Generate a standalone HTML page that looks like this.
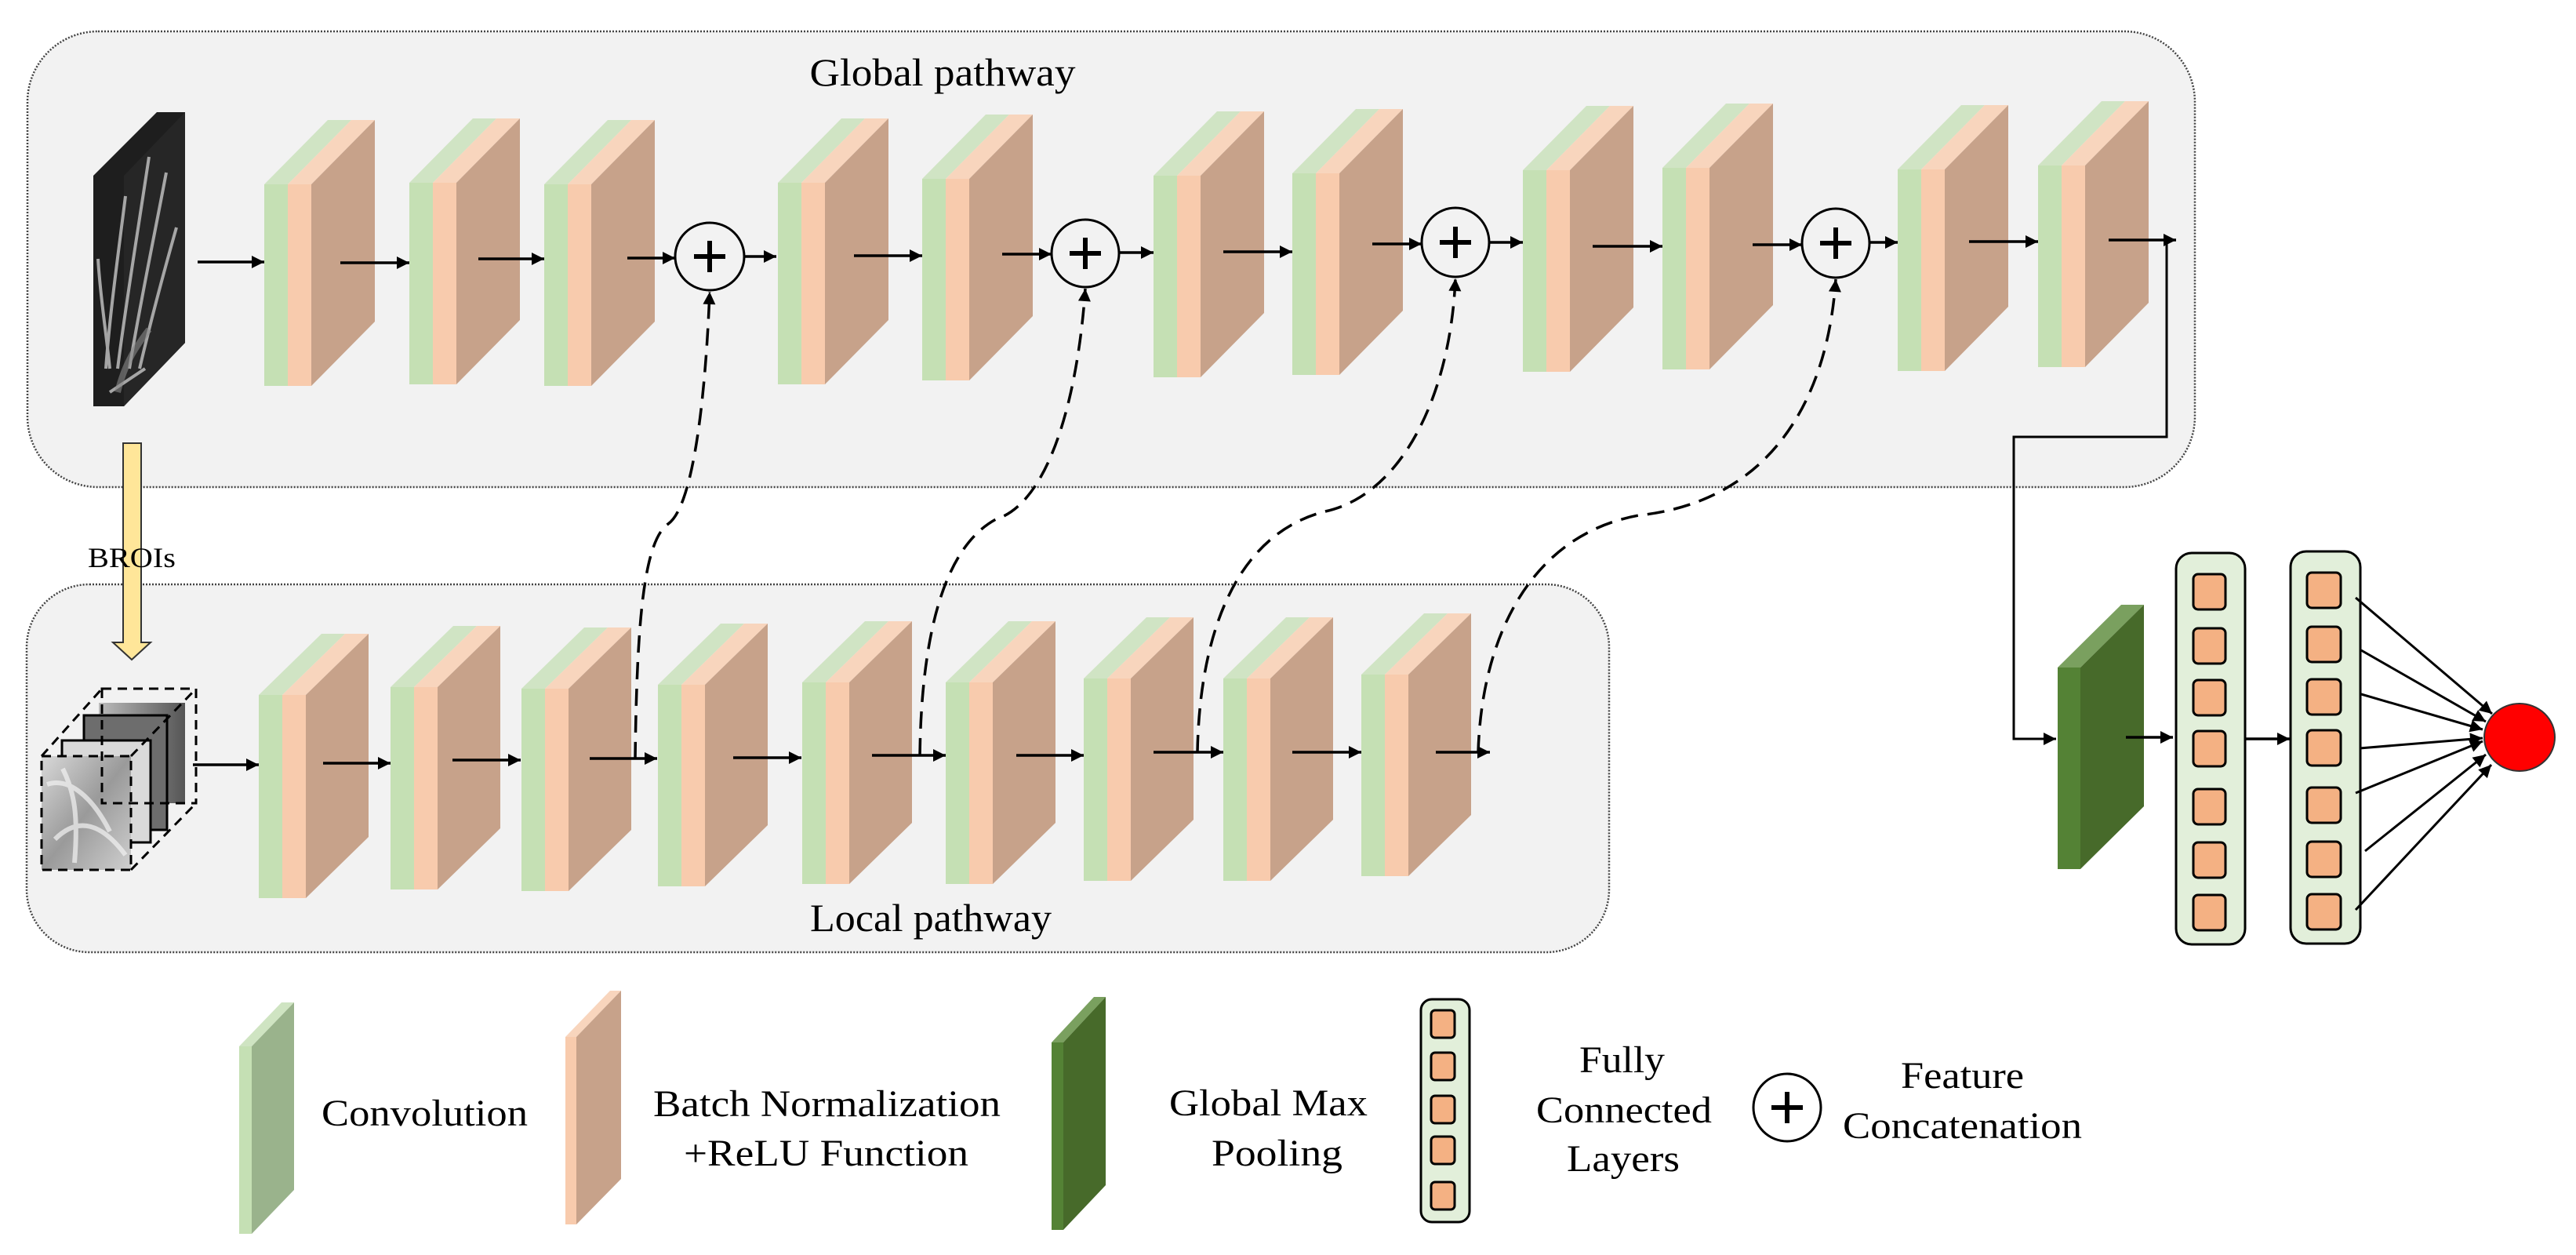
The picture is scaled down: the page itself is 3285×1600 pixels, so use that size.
<!DOCTYPE html>
<html><head><meta charset="utf-8"><style>
html,body{margin:0;padding:0;background:#fff;}
svg{display:block;}
text{font-family:"Liberation Serif","Times New Roman",serif;fill:#000;}
</style></head><body>
<svg width="3285" height="1600" viewBox="0 0 3285 1600" xmlns="http://www.w3.org/2000/svg" font-family="Liberation Serif, serif">
<defs>
<marker id="a" viewBox="0 0 10 10" refX="10" refY="5" markerWidth="18" markerHeight="16" markerUnits="userSpaceOnUse" orient="auto"><path d="M0,0 L10,5 L0,10 z" fill="#000"/></marker>
<linearGradient id="bone" x1="0" y1="0" x2="1" y2="1"><stop offset="0" stop-color="#d8d8d8"/><stop offset="0.5" stop-color="#9a9a9a"/><stop offset="1" stop-color="#cfcfcf"/></linearGradient>
<linearGradient id="bone2" x1="0" y1="0" x2="1" y2="0"><stop offset="0" stop-color="#bbb"/><stop offset="1" stop-color="#555"/></linearGradient>
</defs>

<rect x="35" y="40" width="2764" height="581" rx="90" ry="90" fill="#f2f2f2" stroke="#444" stroke-width="2.5" stroke-dasharray="2 2"/>
<rect x="34" y="745" width="2018" height="469" rx="80" ry="80" fill="#f2f2f2" stroke="#444" stroke-width="2.5" stroke-dasharray="2 2"/>

<text x="1202" y="109" font-size="50" text-anchor="middle" textLength="339" lengthAdjust="spacingAndGlyphs">Global pathway</text>
<text x="1187" y="1187" font-size="50" text-anchor="middle" textLength="308" lengthAdjust="spacingAndGlyphs">Local pathway</text>

<polygon points="119,224 200,143 236,143 236,437 158,518 119,518" fill="#1e1e1e"/>
<polygon points="158,224 236,143 236,437 158,518" fill="#262626"/>
<g stroke="#bdbdbd" stroke-width="4" fill="none" opacity="0.85">
<path d="M135,470 C140,400 150,330 160,250"/>
<path d="M150,470 C160,390 175,300 190,200"/>
<path d="M165,470 C178,390 195,310 212,220"/>
<path d="M178,470 C192,410 208,350 225,290"/>
<path d="M140,470 C135,420 128,380 125,330"/>
<path d="M140,500 L185,470"/>
</g>
<g stroke="#888" stroke-width="8" fill="none" opacity="0.6">
<path d="M150,500 C160,460 175,440 190,420"/>
</g>

<polygon points="157,565 180,565 180,819 192,819 168,841 144,819 157,819" fill="#ffe699" stroke="#333" stroke-width="2"/>
<text x="112" y="723" font-size="36" textLength="112" lengthAdjust="spacingAndGlyphs">BROIs</text>

<g>
<rect x="126" y="896" width="110" height="128" fill="url(#bone2)"/>
<rect x="107" y="912" width="106" height="146" fill="#6d6d6d" stroke="#000" stroke-width="3"/>
<rect x="79" y="944" width="113" height="130" fill="#d9d9d9" stroke="#000" stroke-width="3"/>
<rect x="53" y="964" width="114" height="145" fill="url(#bone)"/>
<path d="M60,1000 C90,990 120,1020 140,1060 M70,1070 C100,1040 130,1050 160,1090 M80,980 C95,1010 100,1040 95,1100" stroke="#f2f2f2" stroke-width="6" fill="none" opacity="0.7"/>
<g fill="none" stroke="#000" stroke-width="3" stroke-dasharray="12 8">
<rect x="53" y="964" width="114" height="145"/>
<rect x="130" y="878" width="120" height="146"/>
<line x1="53" y1="964" x2="130" y2="878"/>
<line x1="167" y1="964" x2="250" y2="878"/>
<line x1="167" y1="1109" x2="250" y2="1024"/>
</g>
</g>

<g>
<g transform="translate(337,235)"><polygon points="0,0 81,-82 111,-82 30,0" fill="#d0e4c4"/><polygon points="30,0 111,-82 141,-82 60,0" fill="#f8d5bd"/><rect x="0" y="0" width="30" height="257" fill="#c5e0b4"/><rect x="30" y="0" width="30" height="257" fill="#f8cbad"/><polygon points="60,0 141,-82 141,175 60,257" fill="#c7a28a"/></g>
<g transform="translate(522,233)"><polygon points="0,0 81,-82 111,-82 30,0" fill="#d0e4c4"/><polygon points="30,0 111,-82 141,-82 60,0" fill="#f8d5bd"/><rect x="0" y="0" width="30" height="257" fill="#c5e0b4"/><rect x="30" y="0" width="30" height="257" fill="#f8cbad"/><polygon points="60,0 141,-82 141,175 60,257" fill="#c7a28a"/></g>
<g transform="translate(694,235)"><polygon points="0,0 81,-82 111,-82 30,0" fill="#d0e4c4"/><polygon points="30,0 111,-82 141,-82 60,0" fill="#f8d5bd"/><rect x="0" y="0" width="30" height="257" fill="#c5e0b4"/><rect x="30" y="0" width="30" height="257" fill="#f8cbad"/><polygon points="60,0 141,-82 141,175 60,257" fill="#c7a28a"/></g>
<g transform="translate(992,233)"><polygon points="0,0 81,-82 111,-82 30,0" fill="#d0e4c4"/><polygon points="30,0 111,-82 141,-82 60,0" fill="#f8d5bd"/><rect x="0" y="0" width="30" height="257" fill="#c5e0b4"/><rect x="30" y="0" width="30" height="257" fill="#f8cbad"/><polygon points="60,0 141,-82 141,175 60,257" fill="#c7a28a"/></g>
<g transform="translate(1176,228)"><polygon points="0,0 81,-82 111,-82 30,0" fill="#d0e4c4"/><polygon points="30,0 111,-82 141,-82 60,0" fill="#f8d5bd"/><rect x="0" y="0" width="30" height="257" fill="#c5e0b4"/><rect x="30" y="0" width="30" height="257" fill="#f8cbad"/><polygon points="60,0 141,-82 141,175 60,257" fill="#c7a28a"/></g>
<g transform="translate(1471,224)"><polygon points="0,0 81,-82 111,-82 30,0" fill="#d0e4c4"/><polygon points="30,0 111,-82 141,-82 60,0" fill="#f8d5bd"/><rect x="0" y="0" width="30" height="257" fill="#c5e0b4"/><rect x="30" y="0" width="30" height="257" fill="#f8cbad"/><polygon points="60,0 141,-82 141,175 60,257" fill="#c7a28a"/></g>
<g transform="translate(1648,221)"><polygon points="0,0 81,-82 111,-82 30,0" fill="#d0e4c4"/><polygon points="30,0 111,-82 141,-82 60,0" fill="#f8d5bd"/><rect x="0" y="0" width="30" height="257" fill="#c5e0b4"/><rect x="30" y="0" width="30" height="257" fill="#f8cbad"/><polygon points="60,0 141,-82 141,175 60,257" fill="#c7a28a"/></g>
<g transform="translate(1942,217)"><polygon points="0,0 81,-82 111,-82 30,0" fill="#d0e4c4"/><polygon points="30,0 111,-82 141,-82 60,0" fill="#f8d5bd"/><rect x="0" y="0" width="30" height="257" fill="#c5e0b4"/><rect x="30" y="0" width="30" height="257" fill="#f8cbad"/><polygon points="60,0 141,-82 141,175 60,257" fill="#c7a28a"/></g>
<g transform="translate(2120,214)"><polygon points="0,0 81,-82 111,-82 30,0" fill="#d0e4c4"/><polygon points="30,0 111,-82 141,-82 60,0" fill="#f8d5bd"/><rect x="0" y="0" width="30" height="257" fill="#c5e0b4"/><rect x="30" y="0" width="30" height="257" fill="#f8cbad"/><polygon points="60,0 141,-82 141,175 60,257" fill="#c7a28a"/></g>
<g transform="translate(2420,216)"><polygon points="0,0 81,-82 111,-82 30,0" fill="#d0e4c4"/><polygon points="30,0 111,-82 141,-82 60,0" fill="#f8d5bd"/><rect x="0" y="0" width="30" height="257" fill="#c5e0b4"/><rect x="30" y="0" width="30" height="257" fill="#f8cbad"/><polygon points="60,0 141,-82 141,175 60,257" fill="#c7a28a"/></g>
<g transform="translate(2599,211)"><polygon points="0,0 81,-82 111,-82 30,0" fill="#d0e4c4"/><polygon points="30,0 111,-82 141,-82 60,0" fill="#f8d5bd"/><rect x="0" y="0" width="30" height="257" fill="#c5e0b4"/><rect x="30" y="0" width="30" height="257" fill="#f8cbad"/><polygon points="60,0 141,-82 141,175 60,257" fill="#c7a28a"/></g>
</g>

<g>
<g transform="translate(330,886)"><polygon points="0,0 80,-78 110,-78 30,0" fill="#d0e4c4"/><polygon points="30,0 110,-78 140,-78 60,0" fill="#f8d5bd"/><rect x="0" y="0" width="30" height="259" fill="#c5e0b4"/><rect x="30" y="0" width="30" height="259" fill="#f8cbad"/><polygon points="60,0 140,-78 140,181 60,259" fill="#c7a28a"/></g>
<g transform="translate(498,876)"><polygon points="0,0 80,-78 110,-78 30,0" fill="#d0e4c4"/><polygon points="30,0 110,-78 140,-78 60,0" fill="#f8d5bd"/><rect x="0" y="0" width="30" height="258" fill="#c5e0b4"/><rect x="30" y="0" width="30" height="258" fill="#f8cbad"/><polygon points="60,0 140,-78 140,180 60,258" fill="#c7a28a"/></g>
<g transform="translate(665,878)"><polygon points="0,0 80,-78 110,-78 30,0" fill="#d0e4c4"/><polygon points="30,0 110,-78 140,-78 60,0" fill="#f8d5bd"/><rect x="0" y="0" width="30" height="258" fill="#c5e0b4"/><rect x="30" y="0" width="30" height="258" fill="#f8cbad"/><polygon points="60,0 140,-78 140,180 60,258" fill="#c7a28a"/></g>
<g transform="translate(839,873)"><polygon points="0,0 80,-78 110,-78 30,0" fill="#d0e4c4"/><polygon points="30,0 110,-78 140,-78 60,0" fill="#f8d5bd"/><rect x="0" y="0" width="30" height="257" fill="#c5e0b4"/><rect x="30" y="0" width="30" height="257" fill="#f8cbad"/><polygon points="60,0 140,-78 140,179 60,257" fill="#c7a28a"/></g>
<g transform="translate(1023,870)"><polygon points="0,0 80,-78 110,-78 30,0" fill="#d0e4c4"/><polygon points="30,0 110,-78 140,-78 60,0" fill="#f8d5bd"/><rect x="0" y="0" width="30" height="257" fill="#c5e0b4"/><rect x="30" y="0" width="30" height="257" fill="#f8cbad"/><polygon points="60,0 140,-78 140,179 60,257" fill="#c7a28a"/></g>
<g transform="translate(1206,870)"><polygon points="0,0 80,-78 110,-78 30,0" fill="#d0e4c4"/><polygon points="30,0 110,-78 140,-78 60,0" fill="#f8d5bd"/><rect x="0" y="0" width="30" height="257" fill="#c5e0b4"/><rect x="30" y="0" width="30" height="257" fill="#f8cbad"/><polygon points="60,0 140,-78 140,179 60,257" fill="#c7a28a"/></g>
<g transform="translate(1382,865)"><polygon points="0,0 80,-78 110,-78 30,0" fill="#d0e4c4"/><polygon points="30,0 110,-78 140,-78 60,0" fill="#f8d5bd"/><rect x="0" y="0" width="30" height="258" fill="#c5e0b4"/><rect x="30" y="0" width="30" height="258" fill="#f8cbad"/><polygon points="60,0 140,-78 140,180 60,258" fill="#c7a28a"/></g>
<g transform="translate(1560,865)"><polygon points="0,0 80,-78 110,-78 30,0" fill="#d0e4c4"/><polygon points="30,0 110,-78 140,-78 60,0" fill="#f8d5bd"/><rect x="0" y="0" width="30" height="258" fill="#c5e0b4"/><rect x="30" y="0" width="30" height="258" fill="#f8cbad"/><polygon points="60,0 140,-78 140,180 60,258" fill="#c7a28a"/></g>
<g transform="translate(1736,860)"><polygon points="0,0 80,-78 110,-78 30,0" fill="#d0e4c4"/><polygon points="30,0 110,-78 140,-78 60,0" fill="#f8d5bd"/><rect x="0" y="0" width="30" height="257" fill="#c5e0b4"/><rect x="30" y="0" width="30" height="257" fill="#f8cbad"/><polygon points="60,0 140,-78 140,179 60,257" fill="#c7a28a"/></g>
</g>

<g fill="#f2f2f2" stroke="#000" stroke-width="3">
<ellipse cx="905" cy="327" rx="44" ry="43"/>
<ellipse cx="1384" cy="323" rx="43" ry="43"/>
<ellipse cx="1856" cy="309" rx="43" ry="44"/>
<ellipse cx="2341" cy="310" rx="43" ry="44"/>
</g>
<g stroke="#000" stroke-width="6">
<path d="M885,327 H925 M905,307 V347"/>
<path d="M1364,323 H1404 M1384,303 V343"/>
<path d="M1836,309 H1876 M1856,289 V329"/>
<path d="M2321,310 H2361 M2341,290 V330"/>
</g>

<g stroke="#000" stroke-width="3.5" marker-end="url(#a)">
<line x1="252" y1="334" x2="337" y2="334"/>
<line x1="434" y1="335" x2="522" y2="335"/>
<line x1="610" y1="330" x2="694" y2="330"/>
<line x1="800" y1="329" x2="861" y2="329"/>
<line x1="949" y1="327" x2="990" y2="327"/>
<line x1="1089" y1="326" x2="1176" y2="326"/>
<line x1="1278" y1="324" x2="1341" y2="324"/>
<line x1="1428" y1="322" x2="1471" y2="322"/>
<line x1="1560" y1="321" x2="1648" y2="321"/>
<line x1="1750" y1="311" x2="1813" y2="311"/>
<line x1="1899" y1="309" x2="1942" y2="309"/>
<line x1="2031" y1="314" x2="2120" y2="314"/>
<line x1="2235" y1="312" x2="2298" y2="312"/>
<line x1="2385" y1="309" x2="2420" y2="309"/>
<line x1="2511" y1="308" x2="2599" y2="308"/>
<line x1="2689" y1="306" x2="2775" y2="306"/>
</g>
<polyline points="2763,306 2763,557 2568,557 2568,942 2622,942" fill="none" stroke="#000" stroke-width="3" marker-end="url(#a)"/>

<g stroke="#000" stroke-width="3.5" marker-end="url(#a)">
<line x1="246" y1="975" x2="330" y2="975"/>
<line x1="412" y1="973" x2="498" y2="973"/>
<line x1="577" y1="969" x2="664" y2="969"/>
<line x1="752" y1="967" x2="838" y2="967"/>
<line x1="935" y1="966" x2="1022" y2="966"/>
<line x1="1112" y1="963" x2="1206" y2="963"/>
<line x1="1296" y1="963" x2="1382" y2="963"/>
<line x1="1471" y1="959" x2="1560" y2="959"/>
<line x1="1648" y1="959" x2="1736" y2="959"/>
<line x1="1831" y1="959" x2="1900" y2="959"/>
</g>

<g fill="none" stroke="#000" stroke-width="3.5" stroke-dasharray="22 12" marker-end="url(#a)">
<path d="M810,968 C812,800 820,690 852,668 C885,645 900,500 905,372"/>
<path d="M1173,963 C1175,820 1200,700 1270,662 C1340,640 1375,500 1384,368"/>
<path d="M1527,959 C1530,800 1580,680 1690,652 C1790,630 1850,500 1856,355"/>
<path d="M1885,959 C1890,800 1960,680 2090,657 C2250,640 2330,520 2341,356"/>
</g>

<polygon points="2624,851 2705,771 2734,771 2653,851" fill="#7aa05f"/>
<rect x="2624" y="851" width="29" height="257" fill="#548235"/>
<polygon points="2653,851 2734,771 2734,1028 2653,1108" fill="#476a2a"/>
<line x1="2711" y1="940" x2="2771" y2="940" stroke="#000" stroke-width="3.5" marker-end="url(#a)"/>

<rect x="2775" y="705" width="88" height="499" rx="20" fill="#e2efda" stroke="#000" stroke-width="3"/>
<g fill="#f4b183" stroke="#000" stroke-width="3">
<rect x="2797" y="732" width="41" height="45" rx="6"/>
<rect x="2797" y="801" width="41" height="45" rx="6"/>
<rect x="2797" y="867" width="41" height="45" rx="6"/>
<rect x="2797" y="932" width="41" height="45" rx="6"/>
<rect x="2797" y="1006" width="41" height="45" rx="6"/>
<rect x="2797" y="1074" width="41" height="45" rx="6"/>
<rect x="2797" y="1141" width="41" height="45" rx="6"/>
</g>
<line x1="2863" y1="942" x2="2920" y2="942" stroke="#000" stroke-width="3.5" marker-end="url(#a)"/>
<rect x="2921" y="703" width="89" height="500" rx="20" fill="#e2efda" stroke="#000" stroke-width="3"/>
<g fill="#f4b183" stroke="#000" stroke-width="3">
<rect x="2942" y="730" width="43" height="45" rx="6"/>
<rect x="2942" y="799" width="43" height="45" rx="6"/>
<rect x="2942" y="866" width="43" height="45" rx="6"/>
<rect x="2942" y="931" width="43" height="45" rx="6"/>
<rect x="2942" y="1004" width="43" height="45" rx="6"/>
<rect x="2942" y="1073" width="43" height="45" rx="6"/>
<rect x="2942" y="1140" width="43" height="45" rx="6"/>
</g>
<g stroke="#000" stroke-width="3" marker-end="url(#a)">
<line x1="3004" y1="762" x2="3178" y2="910"/>
<line x1="3011" y1="829" x2="3170" y2="920"/>
<line x1="3011" y1="885" x2="3166" y2="930"/>
<line x1="3009" y1="954" x2="3166" y2="941"/>
<line x1="3004" y1="1011" x2="3166" y2="945"/>
<line x1="3016" y1="1085" x2="3170" y2="962"/>
<line x1="3004" y1="1160" x2="3177" y2="975"/>
</g>
<ellipse cx="3213" cy="940" rx="45" ry="43" fill="#ff0000" stroke="#333" stroke-width="2"/>

<polygon points="305,1334 359,1278 375,1278 321,1334" fill="#cfe4c2"/>
<rect x="305" y="1334" width="16" height="239" fill="#c5e0b4"/>
<polygon points="321,1334 375,1278 375,1517 321,1573" fill="#9ab38c"/>
<text x="410" y="1435" font-size="48" textLength="263" lengthAdjust="spacingAndGlyphs">Convolution</text>

<polygon points="721,1322 778,1263 792,1263 735,1322" fill="#f8d5bd"/>
<rect x="721" y="1322" width="14" height="239" fill="#f8cbad"/>
<polygon points="735,1322 792,1263 792,1503 735,1561" fill="#c7a28a"/>
<text x="833" y="1423" font-size="48" textLength="443" lengthAdjust="spacingAndGlyphs">Batch Normalization</text>
<text x="872" y="1486" font-size="48" textLength="363" lengthAdjust="spacingAndGlyphs">+ReLU Function</text>

<polygon points="1341,1329 1395,1271 1410,1271 1356,1329" fill="#7aa05f"/>
<rect x="1341" y="1329" width="15" height="239" fill="#548235"/>
<polygon points="1356,1329 1410,1271 1410,1511 1356,1568" fill="#476a2a"/>
<text x="1491" y="1422" font-size="48" textLength="253" lengthAdjust="spacingAndGlyphs">Global Max</text>
<text x="1545" y="1486" font-size="48" textLength="167" lengthAdjust="spacingAndGlyphs">Pooling</text>

<rect x="1812" y="1274" width="62" height="284" rx="14" fill="#e2efda" stroke="#000" stroke-width="3"/>
<g fill="#f4b183" stroke="#000" stroke-width="3">
<rect x="1825" y="1288" width="30" height="35" rx="5"/>
<rect x="1825" y="1342" width="30" height="35" rx="5"/>
<rect x="1825" y="1397" width="30" height="35" rx="5"/>
<rect x="1825" y="1449" width="30" height="35" rx="5"/>
<rect x="1825" y="1507" width="30" height="35" rx="5"/>
</g>
<text x="2014" y="1367" font-size="48" textLength="109" lengthAdjust="spacingAndGlyphs">Fully</text>
<text x="1959" y="1431" font-size="48" textLength="224" lengthAdjust="spacingAndGlyphs">Connected</text>
<text x="1998" y="1493" font-size="48" textLength="144" lengthAdjust="spacingAndGlyphs">Layers</text>

<ellipse cx="2279" cy="1412" rx="43" ry="43" fill="#fff" stroke="#000" stroke-width="3"/>
<path d="M2259,1412 H2299 M2279,1392 V1432" stroke="#000" stroke-width="6"/>
<text x="2424" y="1387" font-size="48" textLength="157" lengthAdjust="spacingAndGlyphs">Feature</text>
<text x="2350" y="1451" font-size="48" textLength="305" lengthAdjust="spacingAndGlyphs">Concatenation</text>
</svg>
</body></html>
